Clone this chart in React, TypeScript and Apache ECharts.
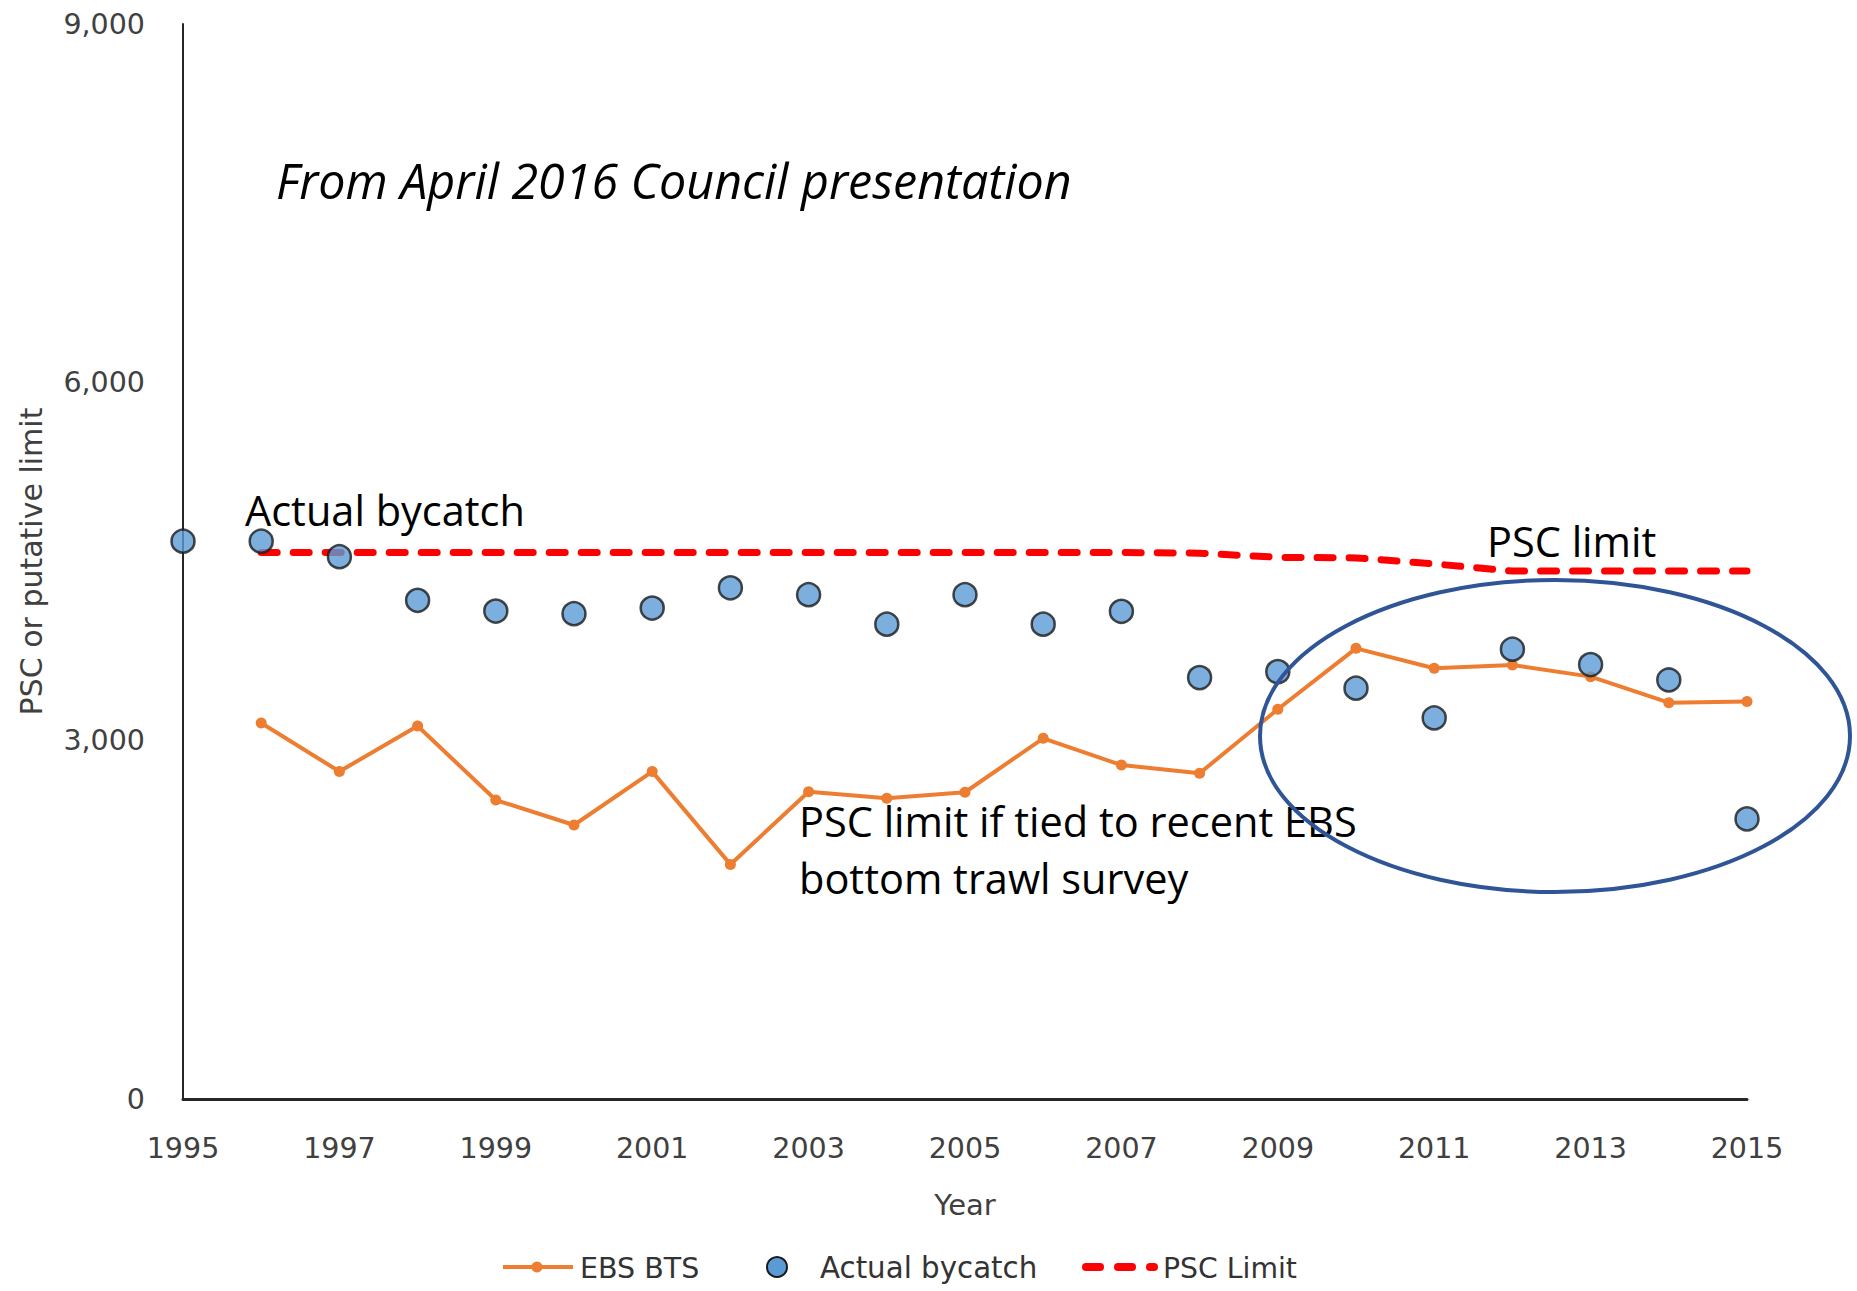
import React, { useEffect, useRef } from "react";
import * as echarts from "echarts";

const years = [1995, 1996, 1997, 1998, 1999, 2000, 2001, 2002, 2003, 2004, 2005, 2006, 2007, 2008, 2009, 2010, 2011, 2012, 2013, 2014, 2015];
const ebsBts = [null, 3148, 2742, 3123, 2503, 2294, 2741, 1964, 2573, 2517, 2568, 3020, 2796, 2727, 3263, 3773, 3606, 3634, 3536, 3318, 3327];
const actualBycatch = [4670, 4670, 4540, 4175, 4085, 4063, 4110, 4280, 4222, 3975, 4222, 3975, 4083, 3528, 3578, 3439, 3190, 3766, 3637, 3508, 2345];
const pscLimit = [null, 4575, 4575, 4575, 4575, 4575, 4575, 4575, 4575, 4575, 4575, 4575, 4575, 4570, 4535, 4530, 4480, 4420, 4420, 4420, 4420];
const yTicks = { min: 0, max: 9000, interval: 3000 };
const xTicks = { min: 1995, max: 2015, interval: 2 };
const legendNames = ["EBS BTS", "Actual bycatch", "PSC Limit"];

const ORANGE = "#ED7D31";
const BLUE = "#5B9BD5";
const RED = "#FF0000";
const AXIS_FONT = "'DejaVu Sans', sans-serif";
const NOTE_FONT = "'Open Sans', sans-serif";
const pairs = (vals: (number | null)[]) =>
  years.map((y, i) => [y, vals[i]]).filter((p) => p[1] !== null);

const LEG_Y = 1267;
const legendGraphics = [
  { type: "line", shape: { x1: 503, y1: LEG_Y, x2: 573, y2: LEG_Y }, style: { stroke: ORANGE, lineWidth: 4 } },
  { type: "circle", shape: { cx: 537, cy: LEG_Y, r: 5.5 }, style: { fill: ORANGE } },
  { type: "text", x: 580, y: LEG_Y + 1, style: { text: legendNames[0], fontSize: 28.5, fontFamily: AXIS_FONT, fill: "#333333", verticalAlign: "middle" } },
  { type: "circle", shape: { cx: 777, cy: LEG_Y, r: 10 }, style: { fill: BLUE, stroke: "#1a1a1a", lineWidth: 2 } },
  { type: "text", x: 820, y: LEG_Y + 1, style: { text: legendNames[1], fontSize: 29.3, fontFamily: AXIS_FONT, fill: "#333333", verticalAlign: "middle" } },
  { type: "rect", shape: { x: 1082, y: LEG_Y - 4, width: 22, height: 8, r: 4 }, style: { fill: RED } },
  { type: "rect", shape: { x: 1114, y: LEG_Y - 4, width: 22, height: 8, r: 4 }, style: { fill: RED } },
  { type: "rect", shape: { x: 1146, y: LEG_Y - 4, width: 12, height: 8, r: 4 }, style: { fill: RED } },
  { type: "text", x: 1163, y: LEG_Y + 1, style: { text: legendNames[2], fontSize: 28.3, fontFamily: AXIS_FONT, fill: "#333333", verticalAlign: "middle" } },
];

export default function App() {
  const ref = useRef<HTMLDivElement>(null);
  useEffect(() => {
    if (!ref.current) return;
    const chart = echarts.init(ref.current, null, { renderer: "svg" });
    chart.setOption({
      animation: false,
      backgroundColor: "#ffffff",
      textStyle: { fontFamily: AXIS_FONT },
      grid: { left: 183, right: 110, top: 24, bottom: 192, outerBoundsMode: "none" },
      xAxis: {
        type: "value",
        min: xTicks.min,
        max: xTicks.max,
        interval: xTicks.interval,
        axisLine: { show: true, lineStyle: { color: "#262626", width: 3 } },
        axisTick: { show: false },
        splitLine: { show: false },
        axisLabel: { formatter: (v: number) => String(v), fontSize: 28.5, color: "#404040", margin: 35, fontFamily: AXIS_FONT },
        name: "Year",
        nameLocation: "middle",
        nameGap: 91,
        nameTextStyle: { fontSize: 29, color: "#404040", fontFamily: AXIS_FONT },
      },
      yAxis: {
        type: "value",
        min: yTicks.min,
        max: yTicks.max,
        interval: yTicks.interval,
        axisLine: { show: true, lineStyle: { color: "#262626", width: 2 } },
        axisTick: { show: false },
        splitLine: { show: false },
        axisLabel: {
          formatter: (v: number) => v.toLocaleString("en-US"),
          fontSize: 28.5,
          color: "#404040",
          margin: 38,
          fontFamily: AXIS_FONT,
        },
        name: "PSC or putative limit",
        nameLocation: "middle",
        nameGap: 137,
        nameRotate: 90,
        nameTextStyle: { fontSize: 30, color: "#404040", fontFamily: AXIS_FONT },
      },
      series: [
        {
          name: legendNames[0],
          type: "line",
          data: pairs(ebsBts),
          color: ORANGE,
          symbol: "circle",
          symbolSize: 11,
          showSymbol: true,
          lineStyle: { color: ORANGE, width: 4 },
          itemStyle: { color: ORANGE },
          z: 3,
        },
        {
          name: legendNames[1],
          type: "scatter",
          data: pairs(actualBycatch),
          symbol: "circle",
          symbolSize: 23,
          clip: false,
          itemStyle: { color: BLUE, borderColor: "#1a1a1a", borderWidth: 2.5 },
          z: 5,
        },
        {
          name: legendNames[2],
          type: "line",
          data: pairs(pscLimit),
          color: RED,
          symbol: "none",
          showSymbol: false,
          lineStyle: { color: RED, width: 7, type: [16, 16], cap: "round" },
          itemStyle: { color: RED },
          z: 2,
        },
      ],
      graphic: [
        {
          type: "text",
          x: 276,
          y: 180,
          z: 10,
          style: { text: "From April 2016 Council presentation", fontSize: 48.4, fontStyle: "italic", fontFamily: NOTE_FONT, fill: "#000", verticalAlign: "middle" },
        },
        {
          type: "text",
          x: 245,
          y: 510,
          z: 10,
          style: { text: "Actual bycatch", fontSize: 41.5, fontFamily: NOTE_FONT, fill: "#000", verticalAlign: "middle" },
        },
        {
          type: "text",
          x: 1487,
          y: 541,
          z: 10,
          style: { text: "PSC limit", fontSize: 41.5, fontFamily: NOTE_FONT, fill: "#000", verticalAlign: "middle" },
        },
        {
          type: "text",
          x: 799,
          y: 821,
          z: 10,
          style: { text: "PSC limit if tied to recent EBS", fontSize: 41.5, fontFamily: NOTE_FONT, fill: "#000", verticalAlign: "middle" },
        },
        {
          type: "text",
          x: 799,
          y: 878,
          z: 10,
          style: { text: "bottom trawl survey", fontSize: 41.5, fontFamily: NOTE_FONT, fill: "#000", verticalAlign: "middle" },
        },
        {
          type: "ellipse",
          z: 20,
          shape: { cx: 1555, cy: 736, rx: 295, ry: 156 },
          style: { fill: "transparent", stroke: "#2F5597", lineWidth: 4 },
        },
        { type: "group", z: 10, children: legendGraphics },
      ],
    });
    return () => chart.dispose();
  }, []);
  return <div ref={ref} style={{ position: "absolute", left: 0, top: 0, width: 1857, height: 1291 }} />;
}
